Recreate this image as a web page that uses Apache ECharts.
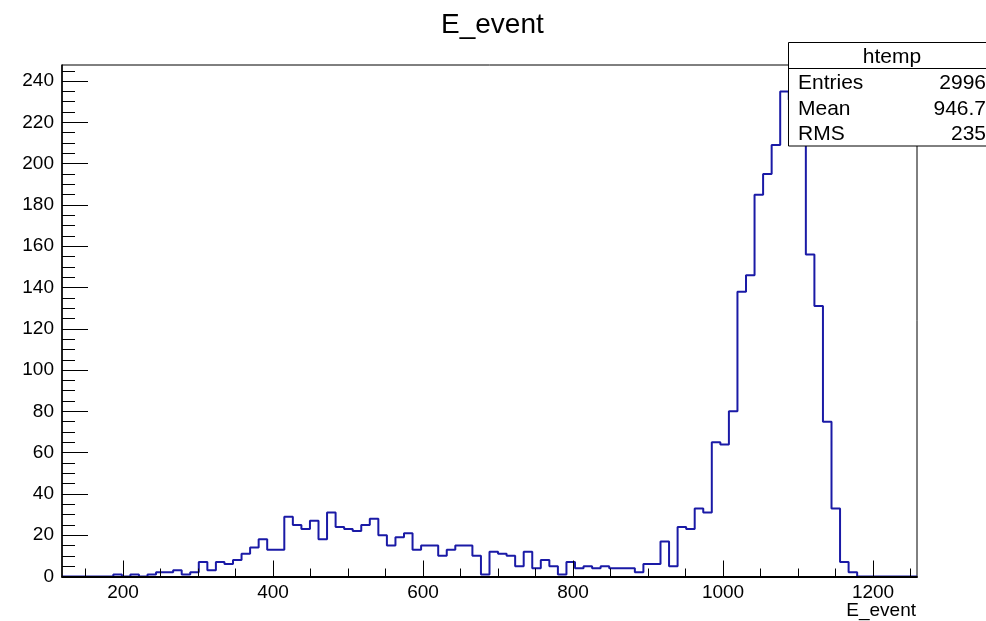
<!DOCTYPE html>
<html>
<head>
<meta charset="utf-8">
<script src="https://cdn.jsdelivr.net/npm/echarts@6/dist/echarts.min.js"></script>
<style>
  html, body { margin: 0; padding: 0; background: #fff; }
  #chart { width: 986px; height: 621px; }
</style>
</head>
<body>
<div id="chart"></div>
<script>
// --- data ---
var chartTitle = 'E_event';
var xName = 'E_event';
var xLow = 118.6;
var binWidth = 11.4;
var counts = [
  0, 0, 0, 0, 0, 0, 1, 0, 1, 0,
  1, 2, 2, 3, 1, 2, 7, 3, 7, 6,
  8, 11, 14, 18, 13, 13, 29, 25, 23, 27,
  18, 31, 24, 23, 22, 25, 28, 20, 15, 19,
  21, 13, 15, 15, 10, 13, 15, 15, 10, 1,
  12, 11, 10, 5, 12, 4, 8, 5, 1, 7,
  4, 5, 4, 5, 4, 4, 4, 2, 6, 6,
  17, 5, 24, 23, 33, 31, 65, 64, 80, 138,
  146, 185, 195, 209, 235, 231, 222, 156, 131, 75,
  33, 7, 2, 0, 0, 0, 0, 0, 0, 0
];
var yMax = 247.8;
var xLabels = [200, 400, 600, 800, 1000, 1200];
var yLabels = [0, 20, 40, 60, 80, 100, 120, 140, 160, 180, 200, 220, 240];
var statNames = ['Entries', 'Mean', 'RMS'];
var statValues = ['2996', '946.7', '235'];

var xHigh = xLow + counts.length * binWidth;
var xMinor = [];
for (var v = 150; v < xHigh; v += 50) xMinor.push(v);
var yMinor = [];
for (var w = 5; w < yMax; w += 5) yMinor.push(w);

var points = counts.map(function (c, i) { return [xLow + i * binWidth, c]; });
points.push([xHigh, counts[counts.length - 1]]);

var font = 'Liberation Sans, Arial, Helvetica, sans-serif';
var black = '#000';
var plain = function (val) { return String(val); };

var chart = echarts.init(document.getElementById('chart'), null, { renderer: 'canvas' });

var statTexts = [];
statNames.forEach(function (n, i) {
  var yy = [83, 109, 134.5][i];
  statTexts.push({ type: 'text', z: 101, x: 798, y: yy,
    style: { text: n, font: '21px ' + font, fill: black, textAlign: 'left', textVerticalAlign: 'middle' } });
  statTexts.push({ type: 'text', z: 101, x: 986, y: yy,
    style: { text: statValues[i], font: '21px ' + font, fill: black, textAlign: 'right', textVerticalAlign: 'middle' } });
});

chart.setOption({
  animation: false,
  backgroundColor: '#fff',
  title: {
    text: chartTitle, left: 436, top: 6,
    textStyle: { fontFamily: font, fontSize: 28, fontWeight: 'normal', color: black }
  },
  grid: { left: 62, right: 69, top: 65, bottom: 44.5, show: true, borderColor: black, borderWidth: 1 },
  xAxis: [
    {
      type: 'value', min: xLow, max: xHigh, position: 'bottom', z: 10,
      axisLine: { onZero: false, lineStyle: { color: black, width: 2 } },
      axisTick: { inside: true, length: 16, customValues: xLabels, lineStyle: { color: black } },
      axisLabel: { customValues: xLabels, formatter: plain, color: black, fontFamily: font, fontSize: 19, margin: 7 },
      splitLine: { show: false }
    },
    {
      type: 'value', min: xLow, max: xHigh, position: 'bottom', z: 10,
      axisLine: { show: false, onZero: false },
      axisTick: { inside: true, length: 8, customValues: xMinor, lineStyle: { color: black } },
      axisLabel: { show: false },
      splitLine: { show: false }
    }
  ],
  yAxis: [
    {
      type: 'value', min: 0, max: yMax, position: 'left', z: 10,
      axisLine: { show: true, onZero: false, lineStyle: { color: black, width: 1.5 } },
      axisTick: { show: true, inside: true, length: 26, customValues: yLabels, lineStyle: { color: black } },
      axisLabel: { customValues: yLabels, formatter: plain, color: black, fontFamily: font, fontSize: 19, margin: 8 },
      splitLine: { show: false }
    },
    {
      type: 'value', min: 0, max: yMax, position: 'left', z: 10,
      axisLine: { show: false, onZero: false },
      axisTick: { show: true, inside: true, length: 13, customValues: yMinor, lineStyle: { color: black } },
      axisLabel: { show: false },
      splitLine: { show: false }
    }
  ],
  series: [{
    type: 'line',
    data: points,
    step: 'end',
    symbol: 'none',
    lineStyle: { color: '#1a1aa6', width: 2 },
    z: 1
  }],
  graphic: [
    { type: 'rect', z: 100, shape: { x: 788.5, y: 42.5, width: 210, height: 103.5 },
      style: { fill: '#fff', stroke: black, lineWidth: 1 } },
    { type: 'line', z: 100, shape: { x1: 788.5, y1: 68.5, x2: 998, y2: 68.5 },
      style: { stroke: black, lineWidth: 1 } },
    { type: 'text', z: 101, x: 892, y: 57,
      style: { text: 'htemp', font: '21px ' + font, fill: black, textAlign: 'center', textVerticalAlign: 'middle' } },
    { type: 'text', z: 101, x: 916, y: 611,
      style: { text: xName, font: '19px ' + font, fill: black, textAlign: 'right', textVerticalAlign: 'middle' } }
  ].concat(statTexts)
});
</script>
</body>
</html>
